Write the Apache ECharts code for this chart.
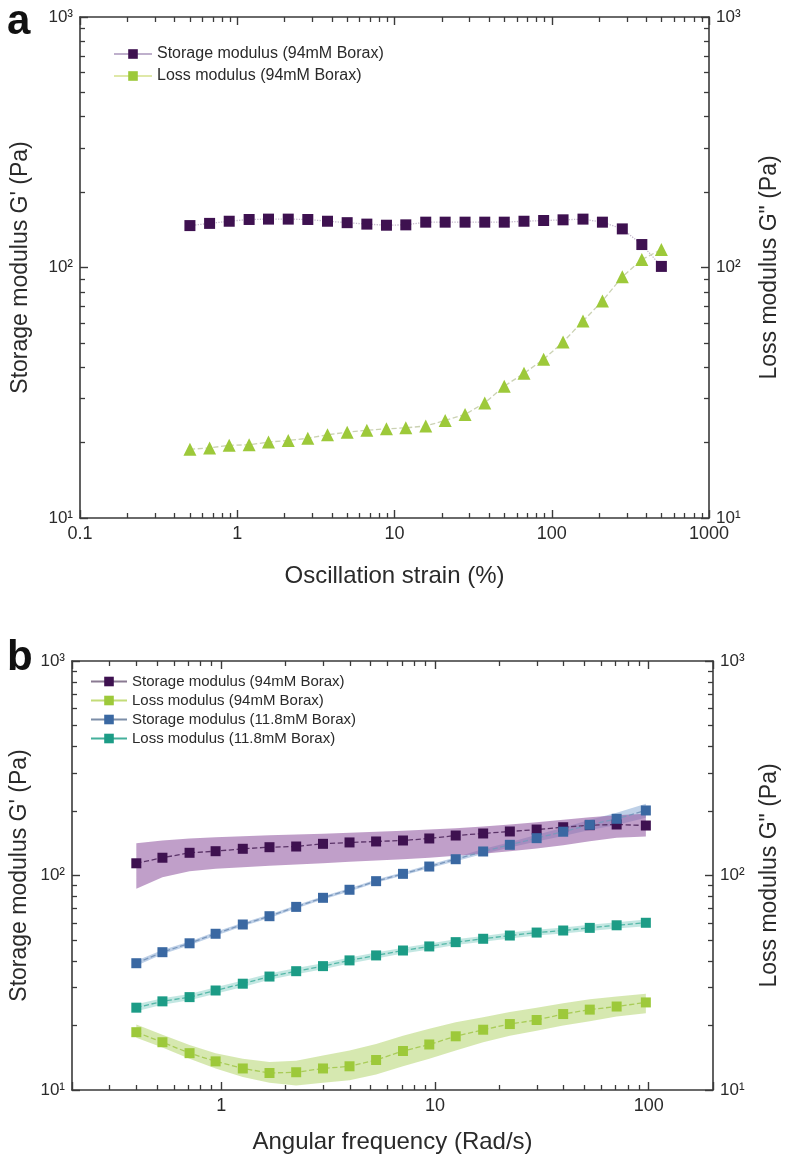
<!DOCTYPE html>
<html>
<head>
<meta charset="utf-8">
<script src="https://cdn.jsdelivr.net/npm/echarts@6/dist/echarts.min.js"></script>
<style>html,body{margin:0;padding:0;background:#fff}#c{width:788px;height:1161px}</style>
</head>
<body>
<div id="c"></div>
<script>
// ---------- Panel a data (strain sweep) ----------
const strainA = [0.5, 0.667, 0.889, 1.19, 1.58, 2.11, 2.81, 3.75, 5.0, 6.67, 8.89, 11.8, 15.8, 21.0, 28.1, 37.5, 49.9, 66.6, 88.8, 118, 158, 210, 281, 374, 498];
const storageA = [147, 150, 153, 155.5, 156, 156, 155.5, 153, 151, 149, 147.5, 148, 151.7, 151.7, 151.7, 151.7, 151.7, 153, 154, 155, 156, 151.7, 142.6, 123.5, 101];
const lossA = [18.8, 19.05, 19.5, 19.6, 20.1, 20.4, 20.8, 21.5, 22.0, 22.4, 22.7, 22.9, 23.3, 24.5, 25.9, 28.8, 33.6, 37.8, 43.0, 50.4, 61.1, 73.5, 91.8, 107.6, 118];

// ---------- Panel b data (frequency sweep) ----------
const freqB = [0.4, 0.53, 0.71, 0.94, 1.26, 1.68, 2.24, 2.99, 3.98, 5.3, 7.08, 9.4, 12.5, 16.8, 22.4, 29.9, 39.8, 53, 70.8, 97];
const storage94 = [114, 121, 127.6, 129.8, 133.2, 135.5, 136.5, 140.5, 142.6, 144.1, 145.6, 148.8, 153.6, 157, 160.4, 163.8, 167.9, 171.6, 172.9, 171];
const storage94Lo = [86.7, 98.2, 104.7, 107.5, 109.3, 111, 112.5, 114.1, 115.9, 117.5, 119.2, 121, 123.6, 126.3, 129.8, 133.6, 138.4, 144.6, 150, 152];
const storage94Hi = [141.5, 145.6, 148.8, 150.9, 152.6, 154.2, 155.3, 156.5, 158.2, 159.9, 161.6, 163.9, 166.2, 169.2, 172.9, 177.3, 182, 187, 191, 194];
const loss94 = [18.6, 16.7, 14.85, 13.6, 12.6, 12.0, 12.1, 12.6, 12.9, 13.8, 15.2, 16.3, 17.8, 19.1, 20.3, 21.2, 22.6, 23.7, 24.5, 25.6];
const loss94Lo = [17.5, 15.8, 14.0, 12.6, 11.5, 10.8, 10.5, 10.8, 11.1, 11.8, 12.9, 14.0, 15.3, 16.7, 17.9, 18.9, 20.0, 20.9, 22.0, 22.8];
const loss94Hi = [20.2, 18.1, 16.2, 14.85, 14.0, 13.5, 13.7, 14.5, 15.3, 16.4, 17.9, 19.3, 20.7, 21.85, 23.1, 24.2, 25.4, 26.5, 27.3, 28.1];
const storage118 = [39.0, 43.9, 48.3, 53.5, 59.1, 64.6, 71.4, 78.7, 85.8, 94.1, 101.8, 110.1, 119.1, 129.4, 139, 149.3, 160, 172.3, 183.8, 201];
const storage118Lo = [38.0, 42.9, 47.3, 52.4, 58.0, 63.4, 70.1, 77.3, 84.3, 92.5, 100, 108, 116.5, 126, 135, 144, 153, 163, 172, 186];
const storage118Hi = [40.0, 44.9, 49.3, 54.6, 60.2, 65.8, 72.7, 80.1, 87.3, 95.7, 103.6, 112.2, 121.7, 133, 143, 155, 167, 182, 196, 216];
const loss118 = [24.2, 25.9, 27.1, 29.1, 31.3, 33.8, 35.8, 37.8, 40.2, 42.4, 44.7, 46.7, 48.9, 50.7, 52.5, 54.2, 55.4, 57.0, 58.6, 60.2];
const loss118Lo = [23.3, 25.0, 26.2, 28.1, 30.2, 32.7, 34.6, 36.6, 38.9, 41.0, 43.3, 45.2, 47.4, 49.1, 50.8, 52.5, 53.6, 55.1, 56.6, 58.0];
const loss118Hi = [25.1, 26.8, 28.0, 30.1, 32.4, 34.9, 37.0, 39.0, 41.5, 43.8, 46.1, 48.2, 50.4, 52.3, 54.2, 55.9, 57.2, 58.9, 60.6, 62.4];

// ---------- Tick values ----------
const minorXA = [0.2,0.3,0.4,0.5,0.6,0.7,0.8,0.9, 2,3,4,5,6,7,8,9, 20,30,40,50,60,70,80,90, 200,300,400,500,600,700,800,900];
const minorXB = [0.3,0.4,0.5,0.6,0.7,0.8,0.9, 2,3,4,5,6,7,8,9, 20,30,40,50,60,70,80,90];
const minorY = [20,30,40,50,60,70,80,90, 200,300,400,500,600,700,800,900];
const supDigits = {1:'\u00B9', 2:'\u00B2', 3:'\u00B3'};

const NAMES = {
  s94: 'Storage modulus (94mM Borax)',
  l94: 'Loss modulus (94mM Borax)',
  s118: 'Storage modulus (11.8mM Borax)',
  l118: 'Loss modulus (11.8mM Borax)'
};

const FF = 'Liberation Sans, Arial, Helvetica, sans-serif';
const AX = '#3a3a3a';
const TXT = '#2a2a2a';

function isPow10(v) {
  const l = Math.log10(v);
  return Math.abs(l - Math.round(l)) < 1e-6;
}
function fmtX(v) {
  if (!isPow10(v)) return '';
  const e = Math.round(Math.log10(v));
  return e < 0 ? '0.1' : String(Math.pow(10, e));
}
function fmtY(v) {
  if (!isPow10(v)) return '';
  const e = Math.round(Math.log10(v));
  return '10' + (supDigits[e] || '');
}

function majorAxis(o) {
  return {
    type: 'log', logBase: 10, min: o.min, max: o.max, gridIndex: o.grid, position: o.pos,
    name: o.name || '', nameLocation: 'middle', nameGap: o.nameGap || 40, nameRotate: o.nameRotate,
    nameMoveOverlap: false,
    nameTextStyle: { fontFamily: FF, fontSize: o.nameSize || 23, color: TXT },
    axisLine: { show: true, onZero: false, lineStyle: { color: AX, width: 1.6 } },
    axisTick: { show: true, inside: true, length: 8, lineStyle: { color: AX, width: 1.4 } },
    minorTick: { show: false }, splitLine: { show: false }, minorSplitLine: { show: false },
    axisLabel: { show: !!o.fmt, formatter: o.fmt, color: TXT, fontFamily: FF, fontSize: o.fs || 17, margin: o.margin || 7,
      showMinLabel: true, showMaxLabel: true, hideOverlap: false },
    z: 5
  };
}
function minorAxis(o) {
  return {
    type: 'log', logBase: 10, min: o.min, max: o.max, gridIndex: o.grid, position: o.pos,
    axisLine: { show: false },
    axisTick: { show: true, inside: true, length: 5, customValues: o.minors, lineStyle: { color: AX, width: 1.3 } },
    axisLabel: { show: false }, splitLine: { show: false }, minorTick: { show: false },
    z: 5
  };
}

const xAxes = [
  majorAxis({ grid: 0, pos: 'bottom', min: 0.1, max: 1000, fmt: fmtX, name: 'Oscillation strain (%)', nameGap: 46, nameSize: 24, fs: 18 }),
  minorAxis({ grid: 0, pos: 'bottom', min: 0.1, max: 1000, minors: minorXA }),
  majorAxis({ grid: 0, pos: 'top', min: 0.1, max: 1000 }),
  minorAxis({ grid: 0, pos: 'top', min: 0.1, max: 1000, minors: minorXA }),
  majorAxis({ grid: 1, pos: 'bottom', min: 0.2, max: 200, fmt: fmtX, name: 'Angular frequency (Rad/s)', nameGap: 40, nameSize: 24, fs: 18 }),
  minorAxis({ grid: 1, pos: 'bottom', min: 0.2, max: 200, minors: minorXB }),
  majorAxis({ grid: 1, pos: 'top', min: 0.2, max: 200 }),
  minorAxis({ grid: 1, pos: 'top', min: 0.2, max: 200, minors: minorXB })
];
const yAxes = [
  majorAxis({ grid: 0, pos: 'left', min: 10, max: 1000, fmt: fmtY, name: "Storage modulus G' (Pa)", nameGap: 48, nameRotate: 90 }),
  minorAxis({ grid: 0, pos: 'left', min: 10, max: 1000, minors: minorY }),
  majorAxis({ grid: 0, pos: 'right', min: 10, max: 1000, fmt: fmtY, name: 'Loss modulus G" (Pa)', nameGap: 49, nameRotate: 90 }),
  minorAxis({ grid: 0, pos: 'right', min: 10, max: 1000, minors: minorY }),
  majorAxis({ grid: 1, pos: 'left', min: 10, max: 1000, fmt: fmtY, name: "Storage modulus G' (Pa)", nameGap: 41, nameRotate: 90 }),
  minorAxis({ grid: 1, pos: 'left', min: 10, max: 1000, minors: minorY }),
  majorAxis({ grid: 1, pos: 'right', min: 10, max: 1000, fmt: fmtY, name: 'Loss modulus G" (Pa)', nameGap: 45, nameRotate: 90 }),
  minorAxis({ grid: 1, pos: 'right', min: 10, max: 1000, minors: minorY })
];

function pairs(xs, ys) { return xs.map((x, i) => [x, ys[i]]); }

function band(xs, lo, hi, color, xi, yi) {
  return {
    type: 'custom', xAxisIndex: xi, yAxisIndex: yi, silent: true, z: 1,
    data: xs.map((x, i) => [x, lo[i], hi[i]]),
    encode: { x: 0, y: [1, 2] },
    renderItem: function (params, api) {
      if (params.dataIndex !== 0) return null;
      const pts = [];
      for (let i = 0; i < xs.length; i++) pts.push(api.coord([xs[i], hi[i]]));
      for (let i = xs.length - 1; i >= 0; i--) pts.push(api.coord([xs[i], lo[i]]));
      return { type: 'polygon', shape: { points: pts, smooth: 0 }, style: { fill: color, stroke: null } };
    }
  };
}

function lineSeries(name, data, xi, yi, color, lineColor, dash, size, extra) {
  return Object.assign({
    name: name, type: 'line', xAxisIndex: xi, yAxisIndex: yi, data: data,
    symbol: 'rect', symbolSize: size, showSymbol: true,
    itemStyle: { color: color },
    lineStyle: { color: lineColor, width: 1.3, type: dash },
    emphasis: { disabled: true }, z: 3
  }, extra || {});
}

const series = [
  // panel a
  lineSeries(NAMES.s94, pairs(strainA, storageA), 0, 0, '#3e1150', '#c4b8cc', 'dotted', 11),
  lineSeries(NAMES.l94, strainA.map((x, i) => ({ value: [x, lossA[i]], symbol: 'triangle' })), 0, 2, '#9dc93a', '#cbd2b3', 'dashed', 13),
  // panel b bands
  band(freqB, storage118Lo, storage118Hi, 'rgba(70,120,185,0.35)', 4, 4),
  band(freqB, storage94Lo, storage94Hi, 'rgba(150,95,165,0.6)', 4, 4),
  band(freqB, loss118Lo, loss118Hi, 'rgba(40,170,150,0.28)', 4, 6),
  band(freqB, loss94Lo, loss94Hi, 'rgba(165,205,80,0.45)', 4, 6),
  // panel b lines
  lineSeries(NAMES.s94, pairs(freqB, storage94), 4, 4, '#3e1150', '#5a3368', 'dashed', 10),
  lineSeries(NAMES.l94, pairs(freqB, loss94), 4, 6, '#9dc93a', '#a9cc58', 'dashed', 10),
  lineSeries(NAMES.s118, pairs(freqB, storage118), 4, 4, '#3a68a2', '#7b98bd', 'dashed', 10),
  lineSeries(NAMES.l118, pairs(freqB, loss118), 4, 6, '#1c9c86', '#55b8a8', 'dashed', 10)
];

const option = {
  animation: false,
  backgroundColor: '#ffffff',
  grid: [
    { left: 80, top: 17, width: 629, height: 501, containLabel: false, outerBoundsMode: 'none' },
    { left: 72, top: 661, width: 641, height: 429, containLabel: false, outerBoundsMode: 'none' }
  ],
  xAxis: xAxes,
  yAxis: yAxes,
  legend: [
    {
      left: 113, top: 46, padding: 0, orient: 'vertical', itemWidth: 38, itemHeight: 12, itemGap: 6, selectedMode: false,
      textStyle: { fontFamily: FF, fontSize: 16, color: TXT },
      data: [
        { name: NAMES.s94, lineStyle: { color: '#bfb0cc', type: 'solid' } },
        { name: NAMES.l94, lineStyle: { color: '#dfe8a8', type: 'solid' } }
      ]
    },
    {
      left: 90, top: 674, padding: 0, orient: 'vertical', itemWidth: 36, itemHeight: 12, itemGap: 4, selectedMode: false,
      textStyle: { fontFamily: FF, fontSize: 15, color: TXT },
      data: [
        { name: NAMES.s94, lineStyle: { color: '#8a7a92', type: 'solid' } },
        { name: NAMES.l94, lineStyle: { color: '#c3dc78', type: 'solid' } },
        { name: NAMES.s118, lineStyle: { color: '#7c8ea8', type: 'solid' } },
        { name: NAMES.l118, lineStyle: { color: '#44b09c', type: 'solid' } }
      ]
    }
  ],
  graphic: [
    { type: 'text', left: 7, top: 1, style: { text: 'a', font: 'bold 42px ' + FF, fill: '#111' } },
    { type: 'text', left: 7, top: 637, style: { text: 'b', font: 'bold 42px ' + FF, fill: '#111' } }
  ],
  series: series
};

const chart = echarts.init(document.getElementById('c'), null, { renderer: 'canvas' });
chart.setOption(option);
</script>
</body>
</html>
